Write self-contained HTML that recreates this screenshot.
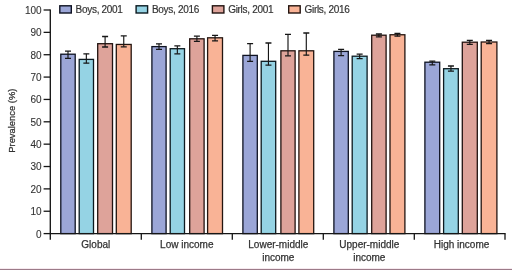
<!DOCTYPE html>
<html><head><meta charset="utf-8"><style>
html,body{margin:0;padding:0;background:#fff;}
body{width:512px;height:270px;overflow:hidden;position:relative;}
svg{position:absolute;left:0;top:0;will-change:transform;}
text{font-family:"Liberation Sans",sans-serif;font-size:10px;fill:#333;stroke:#333;stroke-width:0.25px;}
.lg{font-size:10px;letter-spacing:-0.3px;stroke-width:0.18px;}
.yt{font-size:9.4px;}
.tk{stroke-width:0.1px;}
</style></head><body>
<svg width="512" height="270" viewBox="0 0 512 270">
<rect x="0" y="268" width="512" height="1" fill="#f6e9ef"/>
<rect x="0" y="269" width="512" height="1" fill="#9c7b89"/>
<rect x="60.80" y="54.20" width="14.40" height="179.40" fill="#9ba6d7" stroke="#0e1222" stroke-width="1.3"/><path d="M68.00 51.10V58.30" stroke="#161616" stroke-width="1.15" fill="none"/><path d="M65.00 51.10H71.00M65.00 58.30H71.00" stroke="#161616" stroke-width="1.3" fill="none"/><rect x="79.20" y="59.40" width="14.30" height="174.20" fill="#95d3e4" stroke="#0c1a20" stroke-width="1.3"/><path d="M86.35 53.80V63.20" stroke="#161616" stroke-width="1.15" fill="none"/><path d="M83.35 53.80H89.35M83.35 63.20H89.35" stroke="#161616" stroke-width="1.3" fill="none"/><rect x="97.70" y="43.70" width="14.80" height="189.90" fill="#dea39a" stroke="#221310" stroke-width="1.3"/><path d="M105.10 36.50V47.00" stroke="#161616" stroke-width="1.15" fill="none"/><path d="M102.10 36.50H108.10M102.10 47.00H108.10" stroke="#161616" stroke-width="1.3" fill="none"/><rect x="116.30" y="44.45" width="14.90" height="189.15" fill="#f9b396" stroke="#241510" stroke-width="1.3"/><path d="M123.75 35.90V46.80" stroke="#161616" stroke-width="1.15" fill="none"/><path d="M120.75 35.90H126.75M120.75 46.80H126.75" stroke="#161616" stroke-width="1.3" fill="none"/><rect x="151.90" y="46.60" width="14.20" height="187.00" fill="#9ba6d7" stroke="#0e1222" stroke-width="1.3"/><path d="M159.00 43.80V49.30" stroke="#161616" stroke-width="1.15" fill="none"/><path d="M156.00 43.80H162.00M156.00 49.30H162.00" stroke="#161616" stroke-width="1.3" fill="none"/><rect x="170.20" y="48.70" width="14.30" height="184.90" fill="#95d3e4" stroke="#0c1a20" stroke-width="1.3"/><path d="M177.35 45.90V53.80" stroke="#161616" stroke-width="1.15" fill="none"/><path d="M174.35 45.90H180.35M174.35 53.80H180.35" stroke="#161616" stroke-width="1.3" fill="none"/><rect x="189.70" y="38.80" width="14.40" height="194.80" fill="#dea39a" stroke="#221310" stroke-width="1.3"/><path d="M196.90 36.20V41.40" stroke="#161616" stroke-width="1.15" fill="none"/><path d="M193.90 36.20H199.90M193.90 41.40H199.90" stroke="#161616" stroke-width="1.3" fill="none"/><rect x="207.60" y="37.80" width="14.90" height="195.80" fill="#f9b396" stroke="#241510" stroke-width="1.3"/><path d="M215.05 35.40V40.90" stroke="#161616" stroke-width="1.15" fill="none"/><path d="M212.05 35.40H218.05M212.05 40.90H218.05" stroke="#161616" stroke-width="1.3" fill="none"/><rect x="242.90" y="55.40" width="14.40" height="178.20" fill="#9ba6d7" stroke="#0e1222" stroke-width="1.3"/><path d="M250.10 43.60V61.30" stroke="#161616" stroke-width="1.15" fill="none"/><path d="M247.10 43.60H253.10M247.10 61.30H253.10" stroke="#161616" stroke-width="1.3" fill="none"/><rect x="261.20" y="61.30" width="14.50" height="172.30" fill="#95d3e4" stroke="#0c1a20" stroke-width="1.3"/><path d="M268.45 43.00V65.20" stroke="#161616" stroke-width="1.15" fill="none"/><path d="M265.45 43.00H271.45M265.45 65.20H271.45" stroke="#161616" stroke-width="1.3" fill="none"/><rect x="280.90" y="50.80" width="14.20" height="182.80" fill="#dea39a" stroke="#221310" stroke-width="1.3"/><path d="M288.00 34.30V55.80" stroke="#161616" stroke-width="1.15" fill="none"/><path d="M285.00 34.30H291.00M285.00 55.80H291.00" stroke="#161616" stroke-width="1.3" fill="none"/><rect x="298.90" y="50.80" width="14.80" height="182.80" fill="#f9b396" stroke="#241510" stroke-width="1.3"/><path d="M306.30 33.00V55.20" stroke="#161616" stroke-width="1.15" fill="none"/><path d="M303.30 33.00H309.30M303.30 55.20H309.30" stroke="#161616" stroke-width="1.3" fill="none"/><rect x="333.90" y="51.40" width="14.40" height="182.20" fill="#9ba6d7" stroke="#0e1222" stroke-width="1.3"/><path d="M341.10 49.30V55.60" stroke="#161616" stroke-width="1.15" fill="none"/><path d="M338.10 49.30H344.10M338.10 55.60H344.10" stroke="#161616" stroke-width="1.3" fill="none"/><rect x="352.20" y="56.20" width="14.90" height="177.40" fill="#95d3e4" stroke="#0c1a20" stroke-width="1.3"/><path d="M359.65 54.20V58.70" stroke="#161616" stroke-width="1.15" fill="none"/><path d="M356.65 54.20H362.65M356.65 58.70H362.65" stroke="#161616" stroke-width="1.3" fill="none"/><rect x="371.70" y="35.20" width="14.40" height="198.40" fill="#dea39a" stroke="#221310" stroke-width="1.3"/><path d="M378.90 34.00V36.90" stroke="#161616" stroke-width="1.15" fill="none"/><path d="M375.90 34.00H381.90M375.90 36.90H381.90" stroke="#161616" stroke-width="1.3" fill="none"/><rect x="390.00" y="34.75" width="14.90" height="198.85" fill="#f9b396" stroke="#241510" stroke-width="1.3"/><path d="M397.45 33.40V36.20" stroke="#161616" stroke-width="1.15" fill="none"/><path d="M394.45 33.40H400.45M394.45 36.20H400.45" stroke="#161616" stroke-width="1.3" fill="none"/><rect x="424.90" y="62.20" width="14.80" height="171.40" fill="#9ba6d7" stroke="#0e1222" stroke-width="1.3"/><path d="M432.30 61.10V64.90" stroke="#161616" stroke-width="1.15" fill="none"/><path d="M429.30 61.10H435.30M429.30 64.90H435.30" stroke="#161616" stroke-width="1.3" fill="none"/><rect x="443.60" y="68.70" width="14.70" height="164.90" fill="#95d3e4" stroke="#0c1a20" stroke-width="1.3"/><path d="M450.95 66.00V71.10" stroke="#161616" stroke-width="1.15" fill="none"/><path d="M447.95 66.00H453.95M447.95 71.10H453.95" stroke="#161616" stroke-width="1.3" fill="none"/><rect x="462.30" y="42.20" width="15.00" height="191.40" fill="#dea39a" stroke="#221310" stroke-width="1.3"/><path d="M469.80 40.40V44.30" stroke="#161616" stroke-width="1.15" fill="none"/><path d="M466.80 40.40H472.80M466.80 44.30H472.80" stroke="#161616" stroke-width="1.3" fill="none"/><rect x="481.20" y="42.00" width="15.70" height="191.60" fill="#f9b396" stroke="#241510" stroke-width="1.3"/><path d="M489.05 40.40V43.70" stroke="#161616" stroke-width="1.15" fill="none"/><path d="M486.05 40.40H492.05M486.05 43.70H492.05" stroke="#161616" stroke-width="1.3" fill="none"/>
<path d="M50.3 9.4V239.7" stroke="#161616" stroke-width="1.35" fill="none"/><path d="M49.699999999999996 233.6H505.6" stroke="#161616" stroke-width="1.35" fill="none"/><path d="M43.6 233.60H50.3" stroke="#161616" stroke-width="1.3" fill="none"/><path d="M43.6 211.24H50.3" stroke="#161616" stroke-width="1.3" fill="none"/><path d="M43.6 188.88H50.3" stroke="#161616" stroke-width="1.3" fill="none"/><path d="M43.6 166.52H50.3" stroke="#161616" stroke-width="1.3" fill="none"/><path d="M43.6 144.16H50.3" stroke="#161616" stroke-width="1.3" fill="none"/><path d="M43.6 121.80H50.3" stroke="#161616" stroke-width="1.3" fill="none"/><path d="M43.6 99.44H50.3" stroke="#161616" stroke-width="1.3" fill="none"/><path d="M43.6 77.08H50.3" stroke="#161616" stroke-width="1.3" fill="none"/><path d="M43.6 54.72H50.3" stroke="#161616" stroke-width="1.3" fill="none"/><path d="M43.6 32.36H50.3" stroke="#161616" stroke-width="1.3" fill="none"/><path d="M43.6 10.00H50.3" stroke="#161616" stroke-width="1.3" fill="none"/><path d="M141.30 233.6V239.7" stroke="#161616" stroke-width="1.3" fill="none"/><path d="M232.30 233.6V239.7" stroke="#161616" stroke-width="1.3" fill="none"/><path d="M323.30 233.6V239.7" stroke="#161616" stroke-width="1.3" fill="none"/><path d="M414.30 233.6V239.7" stroke="#161616" stroke-width="1.3" fill="none"/><path d="M505.00 233.6V239.7" stroke="#161616" stroke-width="1.3" fill="none"/>
<text class="tk" x="41.6" y="237.50" text-anchor="end">0</text><text class="tk" x="41.6" y="215.14" text-anchor="end">10</text><text class="tk" x="41.6" y="192.78" text-anchor="end">20</text><text class="tk" x="41.6" y="170.42" text-anchor="end">30</text><text class="tk" x="41.6" y="148.06" text-anchor="end">40</text><text class="tk" x="41.6" y="125.70" text-anchor="end">50</text><text class="tk" x="41.6" y="103.34" text-anchor="end">60</text><text class="tk" x="41.6" y="80.98" text-anchor="end">70</text><text class="tk" x="41.6" y="58.62" text-anchor="end">80</text><text class="tk" x="41.6" y="36.26" text-anchor="end">90</text><text class="tk" x="41.6" y="13.90" text-anchor="end">100</text><text x="95.80" y="248.1" text-anchor="middle">Global</text><text x="186.80" y="248.1" text-anchor="middle">Low income</text><text x="278.30" y="248.1" text-anchor="middle">Lower-middle</text><text x="278.30" y="260.9" text-anchor="middle">income</text><text x="369.30" y="248.1" text-anchor="middle">Upper-middle</text><text x="369.30" y="260.9" text-anchor="middle">income</text><text x="461.50" y="248.1" text-anchor="middle">High income</text><text class="yt" transform="translate(14.8 120.7) rotate(-90)" text-anchor="middle">Prevalence (%)</text>
<rect x="59.80" y="5.8" width="11.5" height="7.2" fill="#9ba6d7" stroke="#0e1222" stroke-width="1.4"/><text class="lg" x="75.60" y="12.7">Boys, 2001</text><rect x="136.10" y="5.8" width="11.5" height="7.2" fill="#95d3e4" stroke="#0c1a20" stroke-width="1.4"/><text class="lg" x="151.90" y="12.7">Boys, 2016</text><rect x="212.40" y="5.8" width="11.5" height="7.2" fill="#dea39a" stroke="#221310" stroke-width="1.4"/><text class="lg" x="228.20" y="12.7">Girls, 2001</text><rect x="288.70" y="5.8" width="11.5" height="7.2" fill="#f9b396" stroke="#241510" stroke-width="1.4"/><text class="lg" x="304.50" y="12.7">Girls, 2016</text>
</svg>
</body></html>
